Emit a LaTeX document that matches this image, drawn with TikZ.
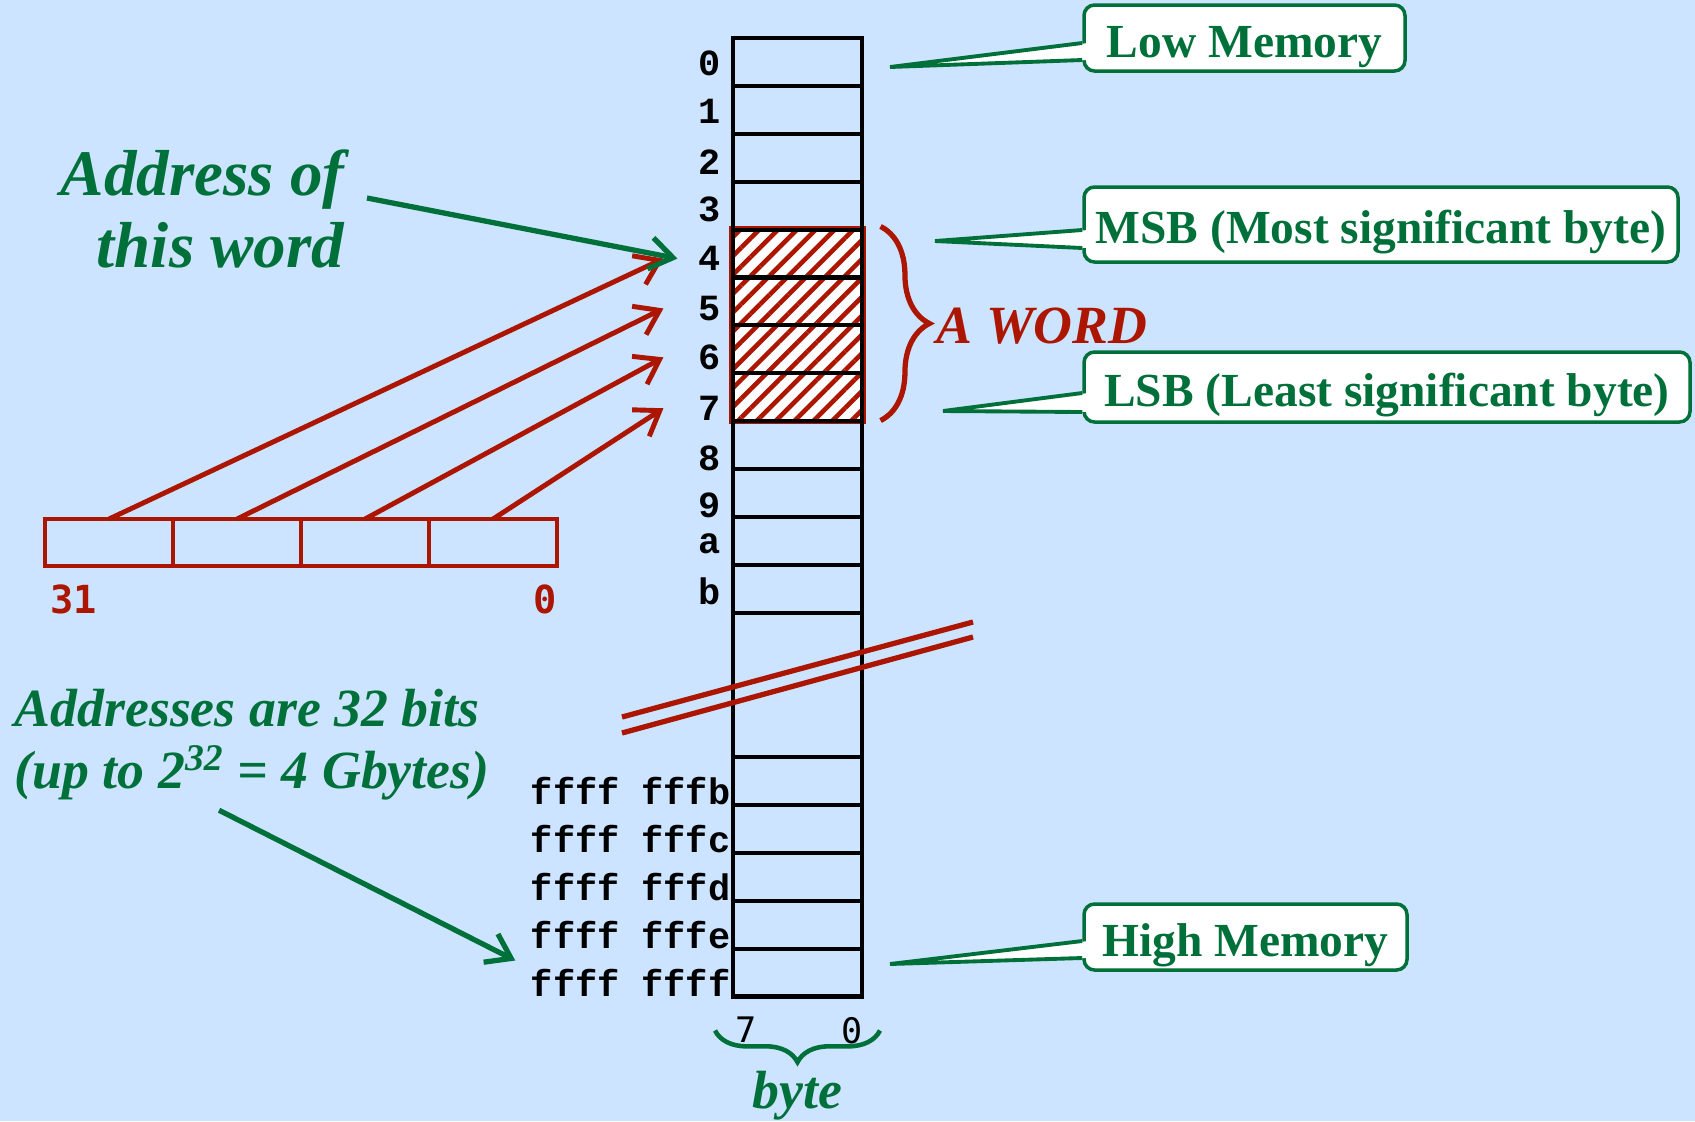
\documentclass[tikz,border=0pt]{standalone}
\usepackage{fontspec}
\setmainfont{Liberation Serif}
\newfontfamily\addrfont{Liberation Mono}
\newfontfamily\bitfont{DejaVu Sans Mono}
\usepackage{xcolor}
\usepackage{tikz}
\usetikzlibrary{positioning,calc,arrows.meta,patterns.meta,decorations.pathreplacing}

\definecolor{bgblue}{RGB}{204,228,255}
\definecolor{memgreen}{RGB}{0,112,58}
\definecolor{memred}{RGB}{172,22,0}

\begin{document}
\begin{tikzpicture}[x=0.1mm, y=-0.1mm,
    cell/.style={rectangle, draw, line width=1.15pt, minimum width=12.9mm, minimum height=4.79mm, inner sep=0pt, outer sep=0pt},
    regcell/.style={rectangle, draw=memred, line width=1.3pt, minimum width=12.8mm, minimum height=4.7mm, inner sep=0pt, outer sep=0pt},
    wordbox/.style={rectangle, draw=memred, line width=1.4pt, preaction={fill=white}, pattern={Lines[angle=45,distance=3.8pt,line width=1.3pt]}, pattern color=memred, minimum width=13.15mm, minimum height=19.25mm, inner sep=0pt},
    addr/.style={font=\fontsize{10.5}{12}\addrfont\bfseries, inner sep=0pt},
    bitnum/.style={font=\fontsize{11}{13}\bitfont\bfseries, inner sep=0pt},
    callout/.style={rectangle, draw=memgreen, fill=white, line width=1pt, rounded corners=3pt, text=memgreen, font=\fontsize{13.5}{16}\selectfont\bfseries, inner sep=0pt, text height=11pt, text depth=0pt},
    tail/.style={draw=memgreen, line width=1.1pt},
    note/.style={text=memgreen, font=\fontsize{15.3}{17.9}\selectfont\bfseries\itshape, inner sep=0pt},
    redarrow/.style={draw=memred, line width=1.4pt, -{Straight Barb[length=6.5pt,width=9pt]}},
    greenarrow/.style={draw=memgreen, line width=1.5pt, -{Straight Barb[length=6.5pt,width=9pt]}},
    breakline/.style={draw=memred, line width=1.5pt},
    wordbrace/.style={draw=memred, line width=1.5pt, decorate, decoration={brace, amplitude=13.9pt}},
    bytebrace/.style={draw=memgreen, line width=1.3pt, decorate, decoration={brace, mirror, amplitude=9pt}}
  ]
    \useasboundingbox (0,0) rectangle (1695,1121);
    \fill[bgblue] (0,0) rectangle (1695,1121);

    \node[wordbox] (word) at (797.5, 325) {};

    \foreach \lab/\dy [count=\i from 0] in {0/0.1,1/0.1,2/0.4,3/0.4,4/0.5,5/0.7,6/0.8,7/1.1,8/1.3,9/1.2,a/0.3,b/0.2} {
      \node[cell] (m\i) at (797.5, {38+47.9*(\i+0.5)}) {};
      \node[addr, left=1.2mm of m\i, yshift=-\dy mm] (a\i) {\lab};
    }
    \node[cell, minimum height=14.4mm] (gap) at (797.5, 685) {};
    \foreach \lab [count=\j from 0] in {fffb,fffc,fffd,fffe,ffff} {
      \node[cell] (h\j) at (797.5, {757+47.9*(\j+0.5)}) {};
      \node[addr, anchor=base east] (ha\j) at ([xshift=-0.2mm]h\j.south west) {ffff \lab};
    }

    \draw[breakline] (622,717) -- (973,622);
    \draw[breakline] (622,733) -- (973,637);

    \node[bitnum, font=\fontsize{10}{12}\bitfont, anchor=north west] (bit7) at ([xshift=0.2mm,yshift=-2mm]h4.south west) {7};
    \node[bitnum, font=\fontsize{10}{12}\bitfont, anchor=north east] (bit0) at ([xshift=0.1mm,yshift=-2mm]h4.south east) {0};
    \draw[bytebrace] ([xshift=-1.8mm,yshift=-3.4mm]h4.south west) -- ([xshift=1.8mm,yshift=-3.4mm]h4.south east);
    \node[note, anchor=base] (bytelab) at (797.5, 1108) {byte};

    \draw[wordbrace] ([xshift=1.5mm]word.north east) -- ([xshift=1.5mm,yshift=0.3mm]word.south east);
    \node[note, text=memred, anchor=base west] (wordlab) at (936, 343) {A WORD};

    \foreach \n in {1,...,4}
      \node[regcell] (r\n) at ({45+128*(\n-0.5)}, 542.5) {};
    \node[bitnum, text=memred, anchor=north west] (b31) at ([xshift=0.5mm,yshift=-1.8mm]r1.south west) {31};
    \node[bitnum, text=memred, anchor=north east] (b0) at ([yshift=-1.8mm]r4.south east) {0};
    \foreach \n/\t in {1/4,2/5,3/6,4/7}
      \draw[redarrow] (r\n.north) -- ([xshift=-3.4mm]a\t.west);

    \node[note, font=\fontsize{18.5}{20.5}\selectfont\bfseries\itshape, align=right, anchor=east] (wordaddr) at (345, 209) {Address of\\this word};
    \draw[greenarrow] ([xshift=2.2mm,yshift=1.1mm]wordaddr.east) -- ([xshift=-2mm]a4.west);

    \node[note, align=left, anchor=north west] (bits) at (14, 688) {Addresses are 32 bits\\(up to 2\textsuperscript{32} = 4 Gbytes)};
    \draw[greenarrow] ([xshift=-3.3mm,yshift=-0.9mm]bits.south) -- ([xshift=-1.5mm,yshift=0.8mm]ha4.north west);

    \node[callout, minimum width=32.1mm, minimum height=6.6mm] (low) at (1244.5, 38) {Low Memory};
    \node[callout, minimum width=59.4mm, minimum height=7.5mm] (msb) at (1381, 224.5) {MSB (Most significant byte)};
    \node[callout, minimum width=60.6mm, minimum height=7mm] (lsb) at (1387, 387) {LSB (Least significant byte)};
    \node[callout, minimum width=32.3mm, minimum height=6.6mm] (high) at (1245.5, 937) {High Memory};
    \coordinate (low-tip) at (890, 67);
    \coordinate (msb-tip) at (935, 241);
    \coordinate (lsb-tip) at (943, 411);
    \coordinate (high-tip) at (890, 964);
    \foreach \bx/\ya/\yb in {low/-0.5/-2.2, msb/-0.55/-2.35, lsb/-0.6/-2.5, high/-0.4/-2.1} {
      \fill[white] (\bx-tip) -- ([shift={(0.6mm,\ya mm)}]\bx.west) -- ([shift={(0.6mm,\yb mm)}]\bx.west) -- cycle;
      \draw[tail] ([yshift=\ya mm]\bx.west) -- (\bx-tip) -- ([yshift=\yb mm]\bx.west);
    }
\end{tikzpicture}
\end{document}
